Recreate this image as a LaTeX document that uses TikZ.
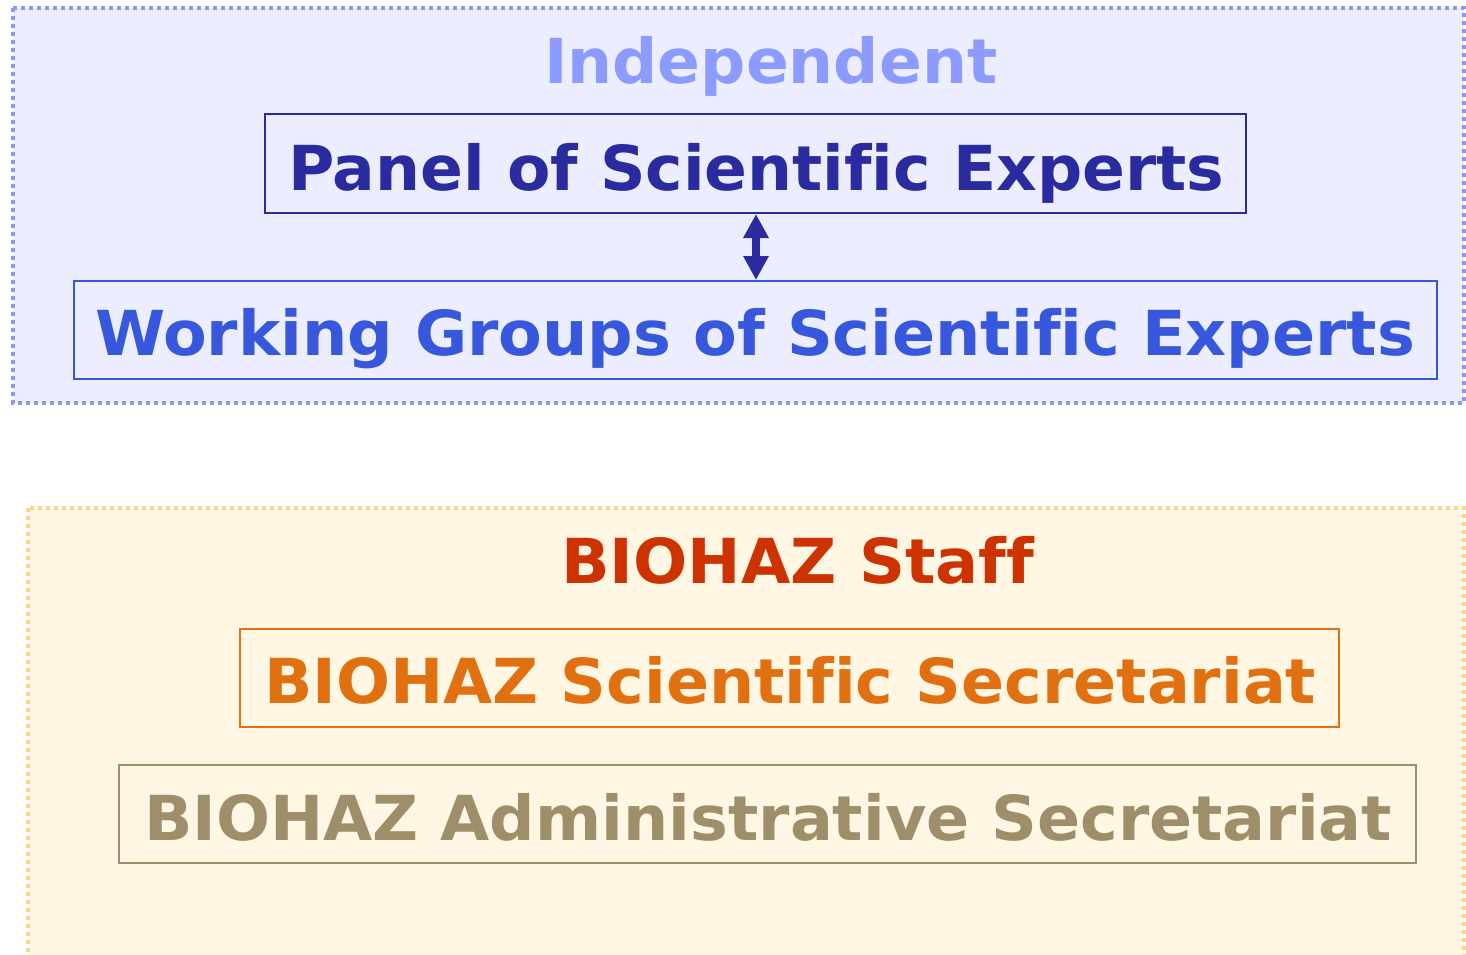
\documentclass[tikz,border=0pt]{standalone}
\usepackage{fontspec}
\setmainfont{DejaVu Sans}[Ligatures=CommonOff]
\usetikzlibrary{arrows.meta}
\definecolor{bluefill}{RGB}{236,238,255}
\definecolor{bluedot}{RGB}{140,150,255}
\definecolor{orfill}{RGB}{255,246,228}
\definecolor{ordot}{RGB}{250,214,135}
\definecolor{indepc}{RGB}{140,155,255}
\definecolor{navy}{RGB}{43,43,160}
\definecolor{wgblue}{RGB}{55,88,220}
\definecolor{staffc}{RGB}{204,51,0}
\definecolor{secc}{RGB}{224,112,16}
\definecolor{admc}{RGB}{158,143,106}
\newcommand{\fitw}[2]{\resizebox{#1}{\height}{#2}}
\begin{document}
\begin{tikzpicture}[x=1pt,y=-1pt,
  frame/.style={line width=4pt, dash pattern=on 4pt off 4pt, line cap=butt},
  box/.style={draw, line width=2pt, inner sep=0, fill=none},
  txt/.style={anchor=base west, inner sep=0, font=\fontsize{62}{70}\selectfont\bfseries}]
\useasboundingbox (0,0) rectangle (1466,955);
\begin{scope}
\clip (0,0) rectangle (1466,955);
\path[frame, draw=bluedot, fill=bluefill] (13,8) rectangle (1464,403);
\path[frame, draw=ordot, fill=orfill] (28,508) rectangle (1464,975);
\end{scope}
% top group
\node[txt, text=indepc] (indep) at (544,84) {\fitw{453pt}{Independent}};
\node[box, draw=navy, minimum width=981pt, minimum height=99pt] (panel) at (755.5,163.5) {};
\node[txt, text=navy] (paneltxt) at (288,190) {\fitw{936pt}{Panel of Scientific Experts}};
\node[box, draw=wgblue, minimum width=1363pt, minimum height=98pt] (wg) at (755.5,330) {};
\node[txt, text=wgblue] (wgtxt) at (95,355) {\fitw{1320pt}{Working Groups of Scientific Experts}};
\draw[navy, line width=8pt, {Triangle[width=24pt,length=24pt]}-{Triangle[width=24pt,length=24pt]}] (panel.south -| 756,0) -- (wg.north -| 756,0);
% bottom group
\node[txt, text=staffc] (staff) at (561,583) {\fitw{473pt}{BIOHAZ Staff}};
\node[box, draw=secc, minimum width=1099pt, minimum height=98pt] (sec) at (789.5,678) {};
\node[txt, text=secc] (sectxt) at (264,703) {\fitw{1052pt}{BIOHAZ Scientific Secretariat}};
\node[box, draw=admc, minimum width=1297pt, minimum height=98pt] (adm) at (767.5,814) {};
\node[txt, text=admc] (admtxt) at (144,840) {\fitw{1248pt}{BIOHAZ Administrative Secretariat}};
\end{tikzpicture}
\end{document}
